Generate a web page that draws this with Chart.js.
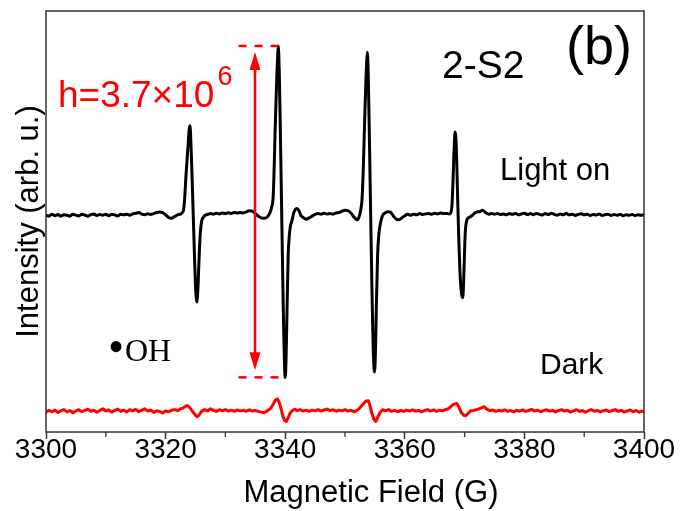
<!DOCTYPE html>
<html>
<head>
<meta charset="utf-8">
<script src="https://cdn.jsdelivr.net/npm/chart.js@4"></script>
<style>
  html, body { margin: 0; padding: 0; background: #fff; }
  #wrap { width: 680px; height: 511px; }
</style>
</head>
<body>
<div id="wrap"><canvas id="c" width="680" height="511"></canvas></div>
<script>
// Field axis
const fieldMin = 3300, fieldMax = 3400;
const fieldTicks = [3300, 3320, 3340, 3360, 3380, 3400];
const fieldTitle = 'Magnetic Field (G)';
const intensityTitle = 'Intensity (arb. u.)';

// EPR spectra, [field (G), intensity (10^6 arb. u.)]
const lightOn = [
  [3300,0],[3300.5,-0.01],[3301,0.01],[3301.5,-0.005],[3302,0.008],[3302.5,-0.012],[3303,0.005],[3303.5,0],
  [3304,-0.01],[3304.5,0.012],[3305,0],[3305.5,-0.008],[3306,0.01],[3306.5,0.002],[3307,-0.01],[3307.5,0.006],
  [3308,0.014],[3308.5,-0.004],[3309,0.008],[3309.5,0],[3310,0.012],[3310.5,-0.006],[3311,0.01],[3311.5,0.004],
  [3312,-0.008],[3312.5,0.01],[3313,0.004],[3313.5,0.012],[3314,0],[3314.5,0.015],[3315,0.022],[3315.5,0.03],
  [3316,0.012],[3316.5,0.006],[3317,0.016],[3317.5,0.008],[3318,0.018],[3318.5,0.03],[3319,0.036],[3319.5,0.03],
  [3320,0.005],[3320.5,-0.025],[3321,-0.034],[3321.5,-0.015],[3322,0.005],[3322.5,0.012],
  [3322.8,0.03],[3323,0.06],[3323.2,0.2],[3323.4,0.43],[3323.6,0.63],[3323.8,0.82],[3323.95,0.96],[3324.08,1.0],
  [3324.25,0.78],[3324.45,0.38],[3324.65,-0.06],[3324.85,-0.5],[3325.05,-0.86],[3325.22,-0.97],[3325.4,-0.82],
  [3325.6,-0.48],[3325.8,-0.2],[3326.05,-0.06],[3326.3,-0.025],[3326.6,0],[3327,0.008],
  [3327.5,0.02],[3328,0.012],[3328.5,0.022],[3329,0.015],[3329.5,0.025],[3330,0.018],[3330.5,0.028],[3331,0.02],
  [3331.5,0.03],[3332,0.024],[3332.5,0.03],[3333,0.026],[3333.5,0.038],[3334,0.05],[3334.5,0.045],[3335,0.02],
  [3335.5,-0.01],[3336,-0.03],[3336.5,-0.035],[3337,-0.02],[3337.4,0.02],
  [3337.7,0.08],[3338,0.22],[3338.15,0.52],[3338.3,0.9],[3338.45,1.24],[3338.6,1.55],[3338.75,1.8],[3338.85,1.89],
  [3339,1.62],[3339.15,1.1],[3339.3,0.5],[3339.45,-0.13],[3339.6,-0.74],[3339.75,-1.3],[3339.9,-1.7],[3340,-1.81],
  [3340.15,-1.58],[3340.3,-1.08],[3340.5,-0.45],[3340.7,-0.22],[3340.9,-0.11],[3341.1,-0.07],[3341.4,0.02],
  [3341.7,0.065],[3341.95,0.075],[3342.3,0.05],[3342.6,0],[3343,-0.025],[3343.5,-0.045],[3344,-0.03],[3344.5,-0.01],
  [3345,0.01],[3345.5,0.018],[3346,0.012],[3346.5,0.022],[3347,0.015],[3347.5,0.02],[3348,0.012],[3348.5,0.025],
  [3349,0.03],[3349.5,0.045],[3350,0.055],[3350.5,0.05],[3351,0.025],[3351.5,-0.02],[3352,-0.05],[3352.3,-0.03],
  [3352.6,0.05],
  [3352.85,0.18],[3353.05,0.5],[3353.2,0.85],[3353.35,1.2],[3353.5,1.5],[3353.65,1.74],[3353.75,1.82],[3353.9,1.52],
  [3354.05,0.98],[3354.2,0.38],[3354.35,-0.22],[3354.5,-0.8],[3354.65,-1.3],[3354.8,-1.64],[3354.95,-1.75],
  [3355.1,-1.5],[3355.25,-1.0],[3355.45,-0.45],[3355.65,-0.22],[3355.85,-0.12],[3356.1,-0.04],[3356.4,0.01],
  [3356.8,0.03],[3357.2,0.04],[3357.6,0.035],[3358,0],[3358.5,-0.04],[3359,-0.05],[3359.5,-0.03],[3360,-0.005],
  [3360.5,0.01],[3361,0],[3361.5,0.012],[3362,0.005],[3362.5,0.018],[3363,0.008],[3363.5,0.015],[3364,0.02],
  [3364.5,0.01],[3365,0.022],[3365.5,0.015],[3366,0.025],[3366.5,0.018],[3367,0.02],[3367.4,0.015],[3367.7,0.03],
  [3367.9,0.12],[3368.05,0.36],[3368.2,0.66],[3368.3,0.82],[3368.42,0.93],[3368.55,0.86],[3368.7,0.56],[3368.85,0.16],
  [3369,-0.2],[3369.15,-0.5],[3369.3,-0.73],[3369.5,-0.88],[3369.68,-0.92],[3369.82,-0.78],[3369.97,-0.45],
  [3370.12,-0.18],[3370.35,-0.06],[3370.6,-0.03],[3370.9,-0.02],[3371.3,0],[3371.7,0.025],[3372,0.037],[3372.5,0.04],
  [3373,0.056],[3373.5,0.03],[3374,0.01],
  [3374.5,0.02],[3375,0.012],[3375.5,0.02],[3376,0.008],[3376.5,0.015],[3377,0.005],[3377.5,0.018],[3378,0.01],
  [3378.5,0.02],[3379,0.006],[3379.5,0.015],[3380,0.022],[3380.5,0.008],[3381,0.018],[3381.5,0.005],[3382,0.02],
  [3382.5,0.01],[3383,0.002],[3383.5,0.018],[3384,0.008],[3384.5,0.022],[3385,0.01],[3385.5,0],[3386,0.015],
  [3386.5,0.006],[3387,0.018],[3387.5,0.004],[3388,0.012],[3388.5,-0.002],[3389,0.01],[3389.5,0.016],[3390,0.004],
  [3390.5,0.012],[3391,-0.004],[3391.5,0.008],[3392,0.002],[3392.5,0.014],[3393,-0.002],[3393.5,0.006],[3394,0.012],
  [3394.5,-0.004],[3395,0.008],[3395.5,0],[3396,0.01],[3396.5,-0.006],[3397,0.006],[3397.5,0],[3398,0.008],
  [3398.5,-0.004],[3399,0.006],[3399.5,0],[3400,0.004]
];

const dark = [
  [3300,-0.01],[3300.5,0.012],[3301,-0.005],[3301.5,0.015],[3302,-0.012],[3302.5,0.008],[3303,0.02],[3303.5,-0.006],
  [3304,0.01],[3304.5,-0.015],[3305,0.006],[3305.5,0.018],[3306,-0.004],[3306.5,0.012],[3307,0.025],[3307.5,0.002],
  [3308,0.014],[3308.5,-0.01],[3309,0.01],[3309.5,0.03],[3310,0.004],[3310.5,0.016],[3311,-0.008],[3311.5,0.012],
  [3312,0.026],[3312.5,0],[3313,0.014],[3313.5,-0.006],[3314,0.018],[3314.5,0.006],[3315,0.022],[3315.5,-0.004],
  [3316,0.012],[3316.5,0.028],[3317,0.004],[3317.5,0.016],[3318,-0.012],[3318.5,0.008],[3319,0],[3319.5,-0.018],
  [3320,0.006],[3320.5,-0.004],[3321,0.012],[3321.5,0.02],[3322,0.008],[3322.5,0.028],[3323,0.04],[3323.5,0.062],
  [3323.75,0.064],[3324,0.045],[3324.5,0],[3325,-0.045],[3325.3,-0.06],[3325.6,-0.04],[3326,0],[3326.5,0.02],
  [3327,0.005],[3327.5,0.03],[3328,0.012],[3328.5,0],[3329,0.018],[3329.5,0.006],[3330,0.02],[3330.5,0.004],
  [3331,0.014],[3331.5,0],[3332,0.016],[3332.5,0.006],[3333,0.012],[3333.5,0.002],[3334,0.018],[3334.5,0.004],
  [3335,0.01],[3335.5,0],[3336,-0.008],[3336.5,-0.016],[3337,0.008],[3337.5,0.03],[3338,0.08],[3338.4,0.13],
  [3338.7,0.139],[3339,0.1],[3339.3,0.03],[3339.6,-0.05],[3339.9,-0.1],[3340.2,-0.112],[3340.5,-0.07],[3340.8,-0.02],
  [3341.2,0.01],[3341.6,0.025],[3342,0.008],[3342.5,0.02],[3343,0.004],[3343.5,0.015],[3344,0],[3344.5,0.014],
  [3345,0.006],[3345.5,0.02],[3346,0.004],[3346.5,0.016],[3347,0.026],[3347.5,0.008],[3348,0.018],[3348.5,0.002],
  [3349,0.014],[3349.5,0.006],[3350,0.02],[3350.5,0.004],[3351,0.012],[3351.5,-0.004],[3352,0.01],[3352.5,0.04],
  [3353,0.08],[3353.5,0.115],[3353.9,0.12],[3354.2,0.06],[3354.5,-0.02],[3354.8,-0.085],[3355.15,-0.112],[3355.5,-0.06],
  [3355.9,-0.01],[3356.3,0.018],[3356.8,0.006],[3357.3,0.02],[3357.8,0],[3358.3,0.012],[3358.8,-0.004],[3359.3,0.01],
  [3359.8,0],[3360.3,0.014],[3360.8,0.004],[3361.3,0.018],[3361.8,0.002],[3362.3,0.012],[3362.8,-0.006],[3363.3,0.01],
  [3363.8,0.02],[3364.3,0.004],[3364.8,0.016],[3365.3,0],[3365.8,0.014],[3366.3,0.006],[3366.8,0.02],[3367.3,0.03],
  [3367.8,0.06],[3368.2,0.08],[3368.7,0.089],[3369.1,0.04],[3369.5,-0.02],[3369.9,-0.045],[3370.2,-0.048],[3370.6,-0.02],
  [3371,0.008],[3371.5,0.01],[3372,0.02],[3372.5,0.03],[3373,0.045],[3373.3,0.052],[3373.7,0.025],[3374.2,0.008],
  [3374.7,0.016],[3375.2,0],[3375.7,0.012],[3376.2,0.004],[3376.7,0.018],[3377.2,0],[3377.7,0.01],[3378.2,-0.006],
  [3378.7,0.012],[3379.2,0.002],[3379.7,0.016],[3380.2,0],[3380.7,0.01],[3381.2,0.022],[3381.7,0.004],[3382.2,0.014],
  [3382.7,-0.004],[3383.2,0.008],[3383.7,0.018],[3384.2,0.002],[3384.7,0.012],[3385.2,-0.006],[3385.7,0.01],[3386.2,0.02],
  [3386.7,0.004],[3387.2,0.012],[3387.7,-0.008],[3388.2,0.006],[3388.7,0.018],[3389.2,0],[3389.7,0.01],[3390.2,-0.01],
  [3390.7,0.008],[3391.2,0.02],[3391.7,0.002],[3392.2,0.012],[3392.7,-0.006],[3393.2,0.008],[3393.7,0.016],[3394.2,-0.002],
  [3394.7,0.01],[3395.2,0.02],[3395.7,0],[3396.2,0.012],[3396.7,-0.008],[3397.2,0.006],[3397.7,0.016],[3398.2,-0.004],
  [3398.7,0.01],[3399.2,-0.01],[3399.6,0.004],[3400,-0.006]
];
// vertical shift of the dark trace
const darkOffset = -2.19;

// peak-to-peak height of the strongest line (10^6)
const hTop = 1.89, hBottom = -1.81;
const hField = 3334.95, hDashFrom = 3332.2, hDashTo = 3339.5;

const sans = "'Liberation Sans', Arial, sans-serif";
const serif = "'Liberation Serif', 'Times New Roman', serif";

// box frame + minor ticks on the field axis
const framePlugin = {
  id: 'frame',
  afterDraw(chart) {
    const { ctx, chartArea: a, scales: { x } } = chart;
    ctx.save();
    ctx.strokeStyle = '#333';
    ctx.lineWidth = 1.5;
    ctx.strokeRect(a.left, a.top, a.right - a.left, a.bottom - a.top);
    ctx.lineWidth = 1.3;
    for (let v = fieldMin + 10; v < fieldMax; v += 20) {
      const px = x.getPixelForValue(v);
      ctx.beginPath();
      ctx.moveTo(px, a.bottom);
      ctx.lineTo(px, a.bottom + 5);
      ctx.stroke();
    }
    ctx.restore();
  }
};

// height marker, axis title and text labels
const notesPlugin = {
  id: 'notes',
  afterDraw(chart) {
    const { ctx, scales: { x, y } } = chart;
    const red = '#ff0000';
    const xa = x.getPixelForValue(hField);
    const yt = y.getPixelForValue(hTop);
    const yb = y.getPixelForValue(hBottom);
    ctx.save();
    ctx.strokeStyle = red;
    ctx.fillStyle = red;
    ctx.lineWidth = 2.5;
    ctx.setLineDash([8, 8]);
    [yt, yb].forEach(py => {
      ctx.beginPath();
      ctx.moveTo(x.getPixelForValue(hDashFrom), py);
      ctx.lineTo(x.getPixelForValue(hDashTo), py);
      ctx.stroke();
    });
    ctx.setLineDash([]);
    const t1 = yt + 6, t2 = yb - 7;
    ctx.beginPath();
    ctx.moveTo(xa, t1 + 10);
    ctx.lineTo(xa, t2 - 10);
    ctx.stroke();
    [[t1, 1], [t2, -1]].forEach(([tip, dir]) => {
      ctx.beginPath();
      ctx.moveTo(xa, tip);
      ctx.lineTo(xa - 5.5, tip + dir * 18);
      ctx.lineTo(xa + 5.5, tip + dir * 18);
      ctx.closePath();
      ctx.fill();
    });

    ctx.textBaseline = 'alphabetic';
    ctx.textAlign = 'left';
    ctx.font = `37px ${sans}`;
    const hText = `h=${(hTop - hBottom).toFixed(1)}\u00d710`;
    ctx.fillText(hText, 58, 107);
    const w = ctx.measureText(hText).width;
    ctx.font = `27px ${sans}`;
    ctx.fillText('6', 58 + w + 3, 85);

    ctx.fillStyle = '#000';
    ctx.font = `39px ${sans}`;
    ctx.fillText('2-S2', 442, 78);
    ctx.font = `54px ${sans}`;
    ctx.fillText('(b)', 566, 64);
    ctx.font = `31px ${sans}`;
    ctx.fillText('Light on', 500, 180);
    ctx.font = `30px ${sans}`;
    ctx.fillText('Dark', 540, 374);
    ctx.font = `46px ${serif}`;
    ctx.fillText('\u2022', 108, 362);
    ctx.font = `32px ${serif}`;
    ctx.fillText('OH', 125, 361);

    // field axis title
    ctx.font = `31px ${sans}`;
    ctx.textAlign = 'center';
    ctx.fillText(fieldTitle, 371, 502);
    ctx.restore();
  }
};

new Chart(document.getElementById('c'), {
  type: 'line',
  data: {
    datasets: [
      {
        label: 'Light on',
        data: lightOn.map(([f, v]) => ({ x: f, y: v })),
        borderColor: '#000', borderWidth: 3, pointRadius: 0, fill: false,
        cubicInterpolationMode: 'monotone',
        borderJoinStyle: 'round', borderCapStyle: 'round'
      },
      {
        label: 'Dark',
        data: dark.map(([f, v]) => ({ x: f, y: v + darkOffset })),
        borderColor: '#ff0000', borderWidth: 3, pointRadius: 0, tension: 0, fill: false,
        borderJoinStyle: 'round', borderCapStyle: 'round'
      }
    ]
  },
  options: {
    responsive: false,
    animation: false,
    devicePixelRatio: 1,
    layout: { padding: { left: 0, right: 36, top: 11, bottom: 0 } },
    plugins: { legend: { display: false }, tooltip: { enabled: false } },
    scales: {
      x: {
        type: 'linear', min: fieldMin, max: fieldMax,
        afterBuildTicks: s => { s.ticks = fieldTicks.map(v => ({ value: v })); },
        ticks: {
          font: { family: sans, size: 28 }, color: '#000', padding: -6, maxRotation: 0, autoSkip: false,
          callback: v => String(v)
        },
        grid: { display: true, drawOnChartArea: false, drawTicks: true, tickLength: 7, tickColor: '#333', tickWidth: 1.5 },
        border: { display: false },
        title: { display: false },
        afterFit: s => { s.height = 79; }
      },
      y: {
        min: -2.42, max: 2.28,
        ticks: { display: false },
        grid: { display: false },
        border: { display: false },
        title: {
          display: true, text: intensityTitle, font: { family: sans, size: 31 }, color: '#000',
          padding: { top: 11, bottom: 0 }
        },
        afterFit: s => { s.width = 46; }
      }
    }
  },
  plugins: [framePlugin, notesPlugin]
});
</script>
</body>
</html>
